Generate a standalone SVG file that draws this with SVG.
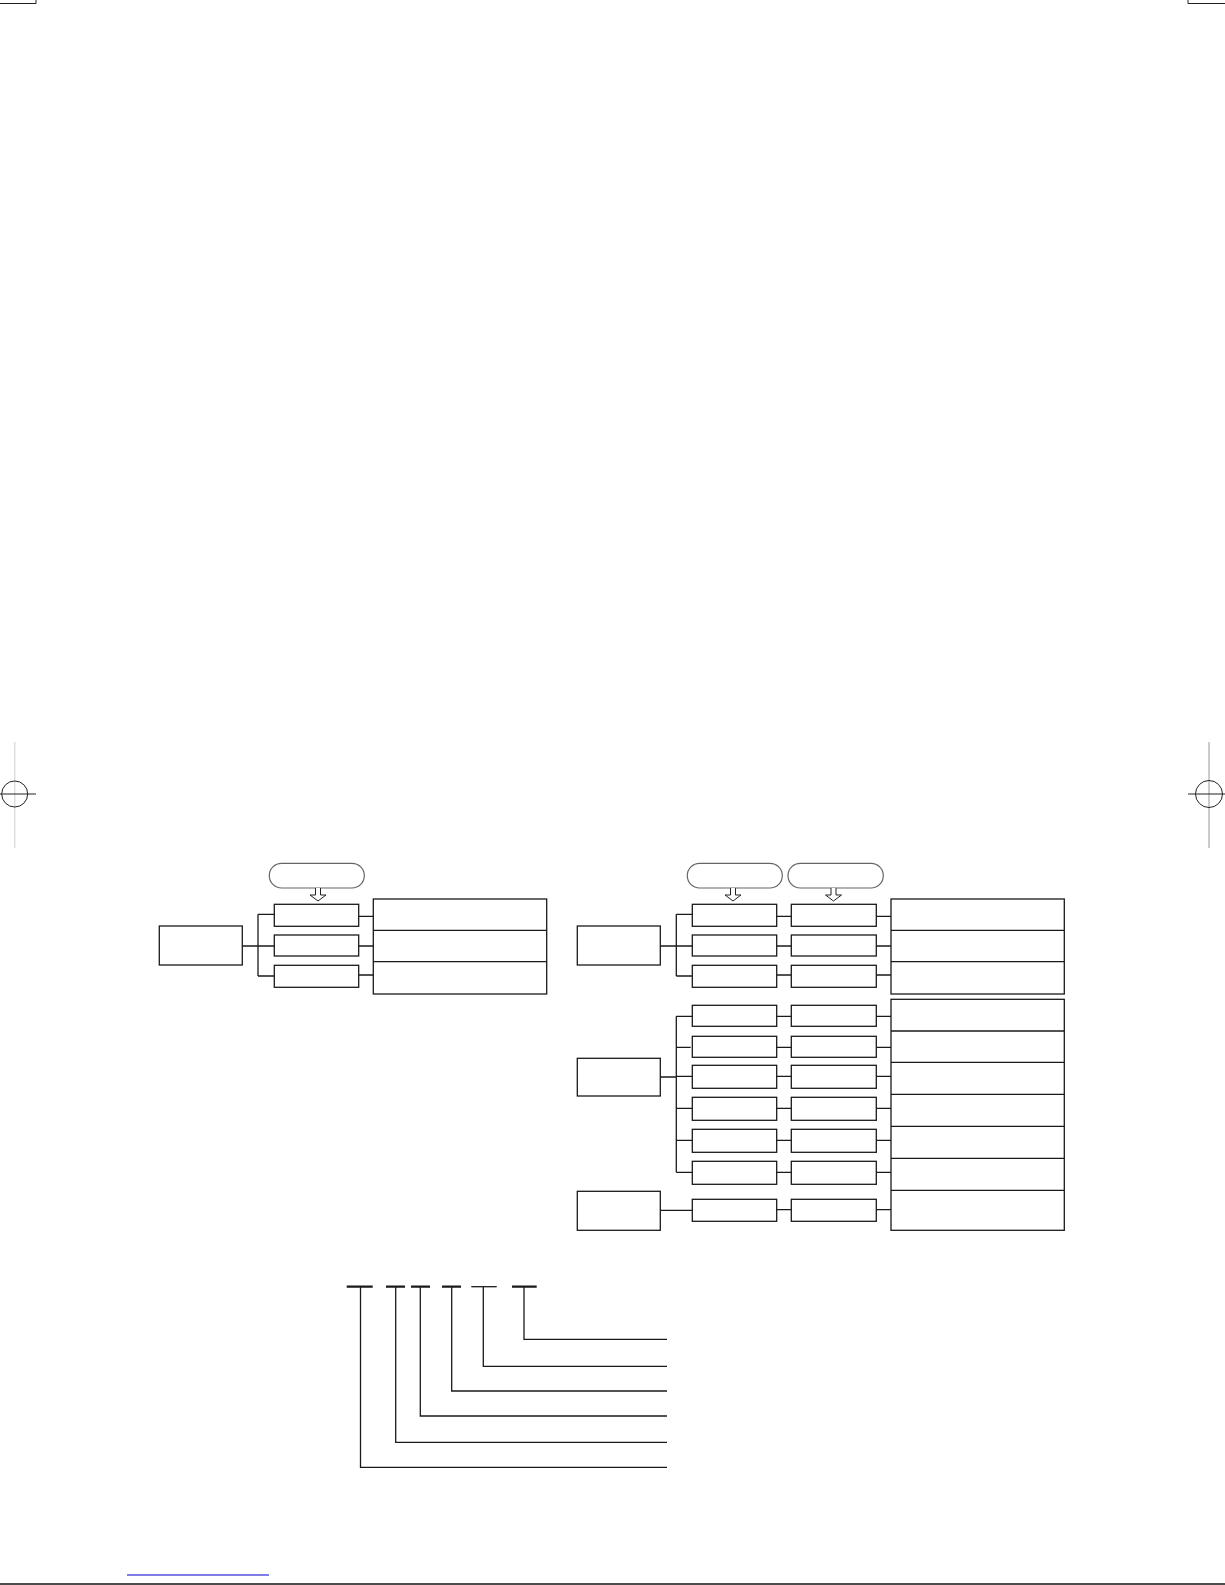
<svg xmlns="http://www.w3.org/2000/svg" width="1225" height="1585" viewBox="0 0 1225 1585">
<style>
.b{fill:#fff;stroke:#1a1a1a;stroke-width:1.3}
.p{fill:#fff;stroke:#666;stroke-width:1.2}
.a{fill:#fff;stroke:#222;stroke-width:1}
.c{fill:none;stroke:#1a1a1a;stroke-width:1.3}
.t{fill:none;stroke:#1a1a1a;stroke-width:2.2}
.m{fill:none;stroke:#222;stroke-width:1}
</style>
<defs>
<path id="arr" class="a" d="M-2.5,0 V7 H-8 L0,13 L8,7 H2.5 V0"/>
</defs>
<rect width="1225" height="1585" fill="#fff"/>
<g id="marks">
<path class="m" d="M0,3.5 H36 V0 M1188,0 V3.5 H1225"/>
<line x1="14.7" y1="742" x2="14.7" y2="848" stroke="#ddd" stroke-width="1.5"/>
<circle cx="14.7" cy="794" r="13" class="m" stroke="#444"/>
<line x1="0" y1="794" x2="36" y2="794" class="m"/>
<line x1="1209" y1="742" x2="1209" y2="848" stroke="#aaa" stroke-width="1.2"/>
<circle cx="1209" cy="794" r="13.5" class="m" stroke="#444"/>
<line x1="1188" y1="794" x2="1225" y2="794" class="m"/>
<line x1="127" y1="1575" x2="269" y2="1575" stroke="#0000cc" stroke-width="1.2"/>
<line x1="0" y1="1584" x2="1225" y2="1584" stroke="#111" stroke-width="1.6"/>
</g>
<g id="connectors">
<path class="c" d="M242,946 H274 M258,914.3 V976 M258,914.3 H274 M258,976 H274 M358.7,916.3 H373.3 M358.7,946 H373.3 M358.7,975 H373.3"/>
<path class="c" d="M660.3,946 H692.3 M676.3,914.3 V976 M676.3,914.3 H692.3 M676.3,976 H692.3 M776.7,916.3 H791.3 M776.7,946 H791.3 M776.7,975 H791.3 M876.3,916.3 H891 M876.3,946 H891 M876.3,975 H891"/>
<path class="c" d="M660.3,1077 H676.3 M676.3,1016.3 V1172.3 M676.3,1016.3 H692.3 M676.3,1047.3 H690.7 M676.3,1076.3 H692.3 M676.3,1108.3 H692.3 M676.3,1140.3 H692.3 M676.3,1172.3 H692.3"/>
<path class="c" d="M776.7,1016.3 H791.3 M776.7,1047.3 H791.3 M776.7,1076.3 H791.3 M776.7,1108.3 H791.3 M776.7,1140.3 H791.3 M776.7,1172.3 H791.3 M776.7,1209.7 H791.3 M876.3,1016.3 H891 M876.3,1047.3 H891 M876.3,1076.3 H891 M876.3,1108.3 H891 M876.3,1140.3 H891 M876.3,1172.3 H891 M876.3,1209.7 H891 M660.3,1210.3 H692.3"/>
<path class="c" d="M360.5,1286.7 V1467.3 H667 M395.7,1286.7 V1442.3 H667 M420.3,1286.7 V1416 H667 M451.7,1286.7 V1391 H667 M483.3,1286.7 V1366.3 H667 M524,1286.7 V1339.3 H667"/>
<path class="t" d="M346.7,1286.7 H372.7 M386,1286.7 H405 M411,1286.7 H430 M442,1286.7 H461 M512,1286.7 H536.7"/>
<path class="c" d="M471.3,1286.7 H496.7" stroke-width="1"/>
</g>
<g id="left-group">
<rect id="l-pill" class="p" x="269.3" y="863.3" width="95" height="24.7" rx="12.3"/>
<use href="#arr" x="318" y="888"/>
<rect id="l-main" class="b" x="159.3" y="926" width="83" height="39"/>
<rect id="l-b1" class="b" x="274.3" y="904.3" width="84.4" height="22"/>
<rect id="l-b2" class="b" x="274.3" y="935" width="84.4" height="21"/>
<rect id="l-b3" class="b" x="274.3" y="965.3" width="84.4" height="22"/>
<rect id="l-out" class="b" x="373.3" y="899" width="173.4" height="95"/>
<path class="c" d="M373.3,930.3 H546.7 M373.3,961.7 H546.7"/>
</g>
<g id="right-group">
<rect id="r-pill1" class="p" x="687.3" y="863.3" width="95" height="24.7" rx="12.3"/>
<rect id="r-pill2" class="p" x="788" y="863.3" width="95.3" height="24.7" rx="12.3"/>
<use href="#arr" x="733" y="888"/>
<use href="#arr" x="833.5" y="888"/>
<rect id="r-main1" class="b" x="577.3" y="926" width="83" height="39"/>
<rect id="r-main2" class="b" x="577.3" y="1058.3" width="83" height="37.7"/>
<rect id="r-main3" class="b" x="577.3" y="1191.3" width="83" height="39"/>
<g id="r-col1">
<rect class="b" x="692.3" y="904.3" width="84.4" height="22"/>
<rect class="b" x="692.3" y="935" width="84.4" height="21"/>
<rect class="b" x="692.3" y="965.3" width="84.4" height="22"/>
<rect class="b" x="692.3" y="1005.3" width="84.4" height="21"/>
<rect class="b" x="692.3" y="1036.3" width="84.4" height="21"/>
<rect class="b" x="692.3" y="1065.3" width="84.4" height="23"/>
<rect class="b" x="692.3" y="1097.3" width="84.4" height="23"/>
<rect class="b" x="692.3" y="1129.3" width="84.4" height="23"/>
<rect class="b" x="692.3" y="1161.3" width="84.4" height="23"/>
<rect class="b" x="692.3" y="1199.3" width="84.4" height="22"/>
</g>
<g id="r-col2">
<rect class="b" x="791.3" y="904.3" width="85" height="22"/>
<rect class="b" x="791.3" y="935" width="85" height="21"/>
<rect class="b" x="791.3" y="965.3" width="85" height="22"/>
<rect class="b" x="791.3" y="1005.3" width="85" height="21"/>
<rect class="b" x="791.3" y="1036.3" width="85" height="21"/>
<rect class="b" x="791.3" y="1065.3" width="85" height="23"/>
<rect class="b" x="791.3" y="1097.3" width="85" height="23"/>
<rect class="b" x="791.3" y="1129.3" width="85" height="23"/>
<rect class="b" x="791.3" y="1161.3" width="85" height="23"/>
<rect class="b" x="791.3" y="1199.3" width="85" height="22"/>
</g>
<rect id="r-out1" class="b" x="891" y="899" width="173.3" height="95"/>
<path class="c" d="M891,930.3 H1064.3 M891,961.7 H1064.3"/>
<rect id="r-out2" class="b" x="891" y="999.3" width="173.3" height="231"/>
<path class="c" d="M891,1031 H1064.3 M891,1062.3 H1064.3 M891,1094.3 H1064.3 M891,1126.3 H1064.3 M891,1158.3 H1064.3 M891,1190.3 H1064.3"/>
</g>
</svg>
